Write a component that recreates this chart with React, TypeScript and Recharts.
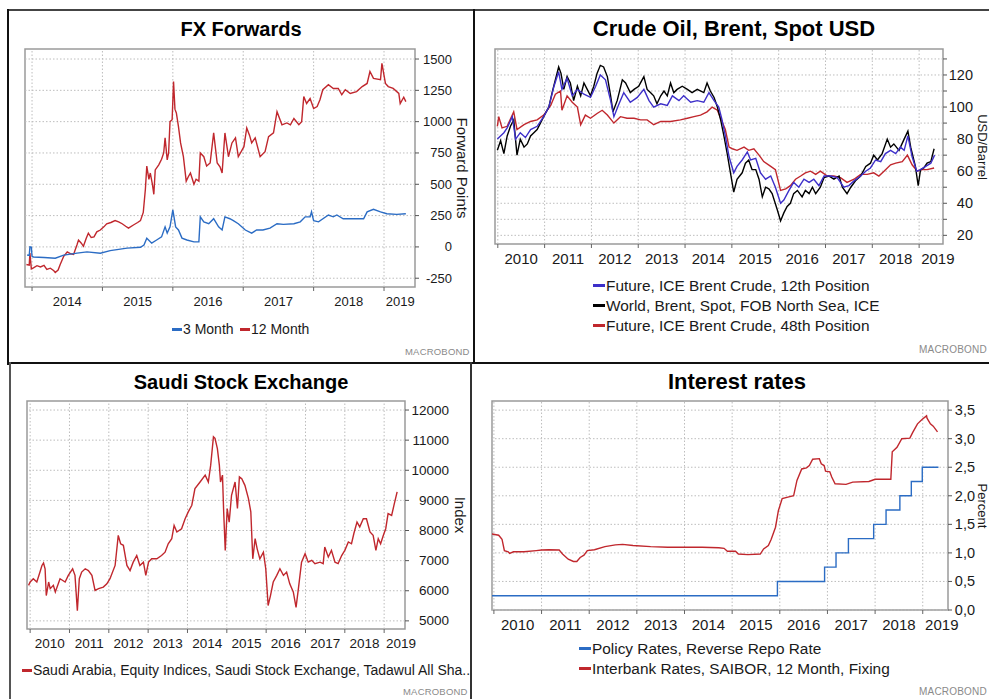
import React from 'react'
import { LineChart, Line, XAxis, YAxis, ReferenceArea, ReferenceLine } from 'recharts'

type Pt = [number, number]

const FONT = '"Liberation Sans", Arial, Helvetica, sans-serif'
const RED = '#c0272d'
const BLUE = '#2b6cc4'
const PURPLE = '#3d2fc9'

// ---------- FX Forwards ----------
const fxYears = [2014, 2015, 2016, 2017, 2018, 2019]
const fxLabelAt = [2014.5, 2015.5, 2016.5, 2017.5, 2018.5, 2019.23]
const fxYTicks = [-250, 0, 250, 500, 750, 1000, 1250, 1500]
const fx3m: Pt[] = [
  [2013.93, -65], [2013.96, -68], [2013.97, 0], [2013.99, -2], [2014.0, -75], [2014.02, -80], [2014.17, -85],
  [2014.33, -90], [2014.45, -65], [2014.64, -50], [2014.78, -40], [2014.97, -50], [2015.11, -30], [2015.35, -10],
  [2015.54, -3], [2015.59, 15], [2015.63, 70], [2015.7, 30], [2015.77, 55], [2015.84, 80], [2015.89, 160],
  [2015.92, 110], [2015.96, 160], [2016.0, 295], [2016.04, 160], [2016.08, 135], [2016.13, 70], [2016.2, 55],
  [2016.3, 40], [2016.37, 40], [2016.39, 240], [2016.44, 200], [2016.51, 185], [2016.58, 225], [2016.65, 160],
  [2016.7, 135], [2016.74, 240], [2016.81, 225], [2016.86, 210], [2016.93, 185], [2017.03, 135], [2017.12, 110],
  [2017.19, 135], [2017.28, 135], [2017.38, 150], [2017.48, 185], [2017.57, 180], [2017.72, 185], [2017.81, 200],
  [2017.88, 240], [2017.95, 240], [2017.97, 280], [2018.0, 210], [2018.07, 200], [2018.21, 255], [2018.28, 240],
  [2018.33, 255], [2018.42, 225], [2018.57, 225], [2018.71, 225], [2018.76, 280], [2018.85, 300], [2018.95, 280],
  [2019.04, 265], [2019.18, 260], [2019.31, 265],
]
const fx12m: Pt[] = [
  [2013.92, -140], [2013.96, -145], [2013.97, -50], [2013.99, -175], [2014.02, -167], [2014.07, -150],
  [2014.12, -160], [2014.17, -148], [2014.21, -180], [2014.26, -170], [2014.31, -190], [2014.33, -205],
  [2014.37, -185], [2014.4, -140], [2014.45, -75], [2014.5, -40], [2014.55, -55], [2014.59, -60], [2014.64, 20],
  [2014.66, 55], [2014.7, 30], [2014.73, 5], [2014.77, 70], [2014.8, 110], [2014.84, 75], [2014.88, 80],
  [2014.92, 120], [2014.97, 135], [2015.02, 160], [2015.06, 185], [2015.12, 195], [2015.18, 210], [2015.23, 200],
  [2015.28, 185], [2015.33, 165], [2015.37, 150], [2015.44, 175], [2015.5, 195], [2015.54, 210], [2015.58, 275],
  [2015.61, 460], [2015.63, 645], [2015.66, 540], [2015.68, 590], [2015.71, 500], [2015.73, 420], [2015.75, 615],
  [2015.8, 655], [2015.84, 700], [2015.87, 750], [2015.89, 870], [2015.92, 695], [2015.94, 750], [2015.96, 1000],
  [2015.99, 1015], [2016.01, 1320], [2016.03, 1100], [2016.05, 1070], [2016.08, 960], [2016.11, 830],
  [2016.15, 720], [2016.19, 525], [2016.22, 560], [2016.25, 590], [2016.3, 500], [2016.33, 540], [2016.37, 525],
  [2016.39, 750], [2016.44, 720], [2016.48, 645], [2016.53, 670], [2016.58, 910], [2016.63, 670], [2016.67, 640],
  [2016.7, 590], [2016.74, 910], [2016.79, 720], [2016.84, 830], [2016.89, 870], [2016.93, 720], [2017.01, 800],
  [2017.05, 950], [2017.09, 890], [2017.12, 830], [2017.17, 870], [2017.24, 720], [2017.31, 760], [2017.36, 880],
  [2017.43, 910], [2017.48, 1080], [2017.55, 975], [2017.62, 990], [2017.67, 975], [2017.72, 1025],
  [2017.79, 975], [2017.83, 1000], [2017.86, 1200], [2017.9, 1145], [2017.95, 1185], [2018.0, 1105],
  [2018.05, 1120], [2018.09, 1175], [2018.13, 1255], [2018.21, 1295], [2018.28, 1265], [2018.35, 1265],
  [2018.4, 1215], [2018.45, 1255], [2018.52, 1225], [2018.61, 1240], [2018.69, 1280], [2018.76, 1305],
  [2018.8, 1400], [2018.85, 1345], [2018.95, 1335], [2018.97, 1465], [2019.02, 1305], [2019.06, 1280],
  [2019.13, 1265], [2019.21, 1225], [2019.23, 1145], [2019.28, 1195], [2019.31, 1160],
]

// ---------- Crude oil ----------
const oilYears = [2010, 2011, 2012, 2013, 2014, 2015, 2016, 2017, 2018, 2019]
const oilLabelAt = [2010.5, 2011.5, 2012.5, 2013.5, 2014.5, 2015.5, 2016.5, 2017.5, 2018.5, 2019.4]
const oilYTicks = [20, 30, 40, 50, 60, 70, 80, 90, 100, 110, 120, 130]
const oilSpot: Pt[] = [
  [2009.99, 73], [2010.06, 79], [2010.13, 71], [2010.2, 82], [2010.27, 88], [2010.34, 92], [2010.41, 70],
  [2010.48, 80], [2010.56, 75], [2010.63, 77], [2010.7, 82], [2010.77, 84], [2010.84, 86], [2010.91, 90],
  [2010.98, 94], [2011.09, 100], [2011.16, 109], [2011.23, 117], [2011.3, 125], [2011.35, 121], [2011.41, 111],
  [2011.48, 119], [2011.55, 115], [2011.62, 104], [2011.7, 113], [2011.77, 107], [2011.84, 115], [2011.91, 111],
  [2011.98, 107], [2012.05, 113], [2012.12, 121], [2012.19, 126], [2012.26, 125], [2012.34, 119], [2012.41, 107],
  [2012.46, 97], [2012.55, 104], [2012.66, 117], [2012.73, 115], [2012.83, 109], [2012.91, 111], [2013.01, 113],
  [2013.12, 119], [2013.19, 111], [2013.26, 109], [2013.33, 107], [2013.4, 102], [2013.48, 107], [2013.55, 110],
  [2013.62, 107], [2013.69, 115], [2013.76, 109], [2013.83, 111], [2013.94, 113], [2014.05, 111], [2014.15, 109],
  [2014.26, 111], [2014.4, 109], [2014.47, 115], [2014.54, 110], [2014.62, 106], [2014.69, 100], [2014.76, 92],
  [2014.83, 82], [2014.9, 71], [2014.97, 59], [2015.04, 47], [2015.11, 55], [2015.22, 59], [2015.29, 65],
  [2015.36, 67], [2015.43, 61], [2015.51, 61], [2015.58, 55], [2015.65, 44], [2015.72, 50], [2015.79, 49],
  [2015.86, 46], [2015.97, 36], [2016.04, 29], [2016.11, 34], [2016.18, 38], [2016.25, 40], [2016.32, 46],
  [2016.4, 48], [2016.5, 44], [2016.57, 48], [2016.65, 46], [2016.72, 50], [2016.79, 46], [2016.89, 50],
  [2016.97, 56], [2017.07, 57], [2017.18, 55], [2017.29, 57], [2017.36, 50], [2017.46, 46], [2017.54, 50],
  [2017.64, 54], [2017.75, 57], [2017.86, 63], [2017.96, 65], [2018.03, 70], [2018.11, 67], [2018.21, 71],
  [2018.32, 80], [2018.39, 75], [2018.46, 77], [2018.57, 73], [2018.68, 80], [2018.76, 85], [2018.82, 75],
  [2018.92, 63], [2018.98, 51], [2019.03, 61], [2019.1, 62], [2019.17, 65], [2019.25, 66], [2019.32, 74],
]
const oil12th: Pt[] = [
  [2009.99, 80], [2010.13, 84], [2010.2, 87], [2010.31, 94], [2010.38, 80], [2010.48, 84], [2010.59, 81],
  [2010.7, 86], [2010.84, 88], [2010.98, 94], [2011.09, 100], [2011.2, 113], [2011.3, 122], [2011.37, 111],
  [2011.48, 118], [2011.59, 107], [2011.7, 111], [2011.84, 108], [2011.98, 106], [2012.09, 113], [2012.19, 120],
  [2012.3, 117], [2012.41, 104], [2012.48, 94], [2012.59, 102], [2012.69, 109], [2012.83, 103], [2012.98, 106],
  [2013.12, 111], [2013.23, 104], [2013.33, 100], [2013.48, 102], [2013.62, 101], [2013.73, 107], [2013.87, 104],
  [2013.97, 107], [2014.12, 103], [2014.26, 104], [2014.4, 103], [2014.51, 109], [2014.62, 104], [2014.72, 100],
  [2014.79, 92], [2014.86, 82], [2014.94, 69], [2015.04, 59], [2015.11, 63], [2015.22, 67], [2015.33, 72],
  [2015.4, 67], [2015.51, 68], [2015.61, 59], [2015.72, 55], [2015.83, 57], [2015.93, 50], [2016.04, 40],
  [2016.11, 42], [2016.22, 48], [2016.32, 53], [2016.43, 50], [2016.54, 55], [2016.65, 53], [2016.75, 55],
  [2016.86, 51], [2016.97, 57], [2017.11, 57], [2017.25, 56], [2017.39, 50], [2017.5, 51], [2017.61, 54],
  [2017.75, 57], [2017.86, 60], [2017.96, 62], [2018.07, 67], [2018.18, 66], [2018.28, 71], [2018.39, 73],
  [2018.5, 71], [2018.6, 75], [2018.68, 73], [2018.76, 82], [2018.85, 69], [2018.95, 60], [2019.03, 61],
  [2019.14, 63], [2019.25, 65], [2019.33, 70],
]
const oil48th: Pt[] = [
  [2009.99, 88], [2010.02, 94], [2010.09, 87], [2010.2, 88], [2010.34, 97], [2010.41, 86], [2010.56, 89],
  [2010.7, 91], [2010.84, 92], [2010.98, 95], [2011.13, 101], [2011.23, 108], [2011.34, 110], [2011.37, 98],
  [2011.48, 107], [2011.59, 103], [2011.7, 100], [2011.77, 89], [2011.87, 95], [2011.98, 93], [2012.12, 96],
  [2012.23, 98], [2012.34, 95], [2012.48, 90], [2012.62, 94], [2012.76, 93], [2012.91, 93], [2013.05, 92],
  [2013.19, 92], [2013.33, 89], [2013.48, 91], [2013.69, 91], [2013.9, 92], [2014.05, 93], [2014.19, 94],
  [2014.33, 95], [2014.47, 97], [2014.58, 100], [2014.69, 98], [2014.79, 91], [2014.86, 86], [2014.94, 75],
  [2015.01, 74], [2015.11, 73], [2015.26, 75], [2015.36, 73], [2015.47, 74], [2015.58, 70], [2015.68, 66],
  [2015.83, 63], [2015.93, 61], [2016.04, 48], [2016.15, 49], [2016.25, 51], [2016.36, 55], [2016.47, 57],
  [2016.57, 59], [2016.68, 60], [2016.79, 58], [2016.89, 60], [2017.04, 57], [2017.18, 57], [2017.32, 56],
  [2017.46, 53], [2017.61, 55], [2017.75, 58], [2017.89, 58], [2018.03, 59], [2018.14, 57], [2018.25, 60],
  [2018.39, 64], [2018.5, 65], [2018.64, 66], [2018.75, 70], [2018.85, 64], [2018.96, 60], [2019.07, 61],
  [2019.17, 61], [2019.32, 62],
]

// ---------- Saudi stock exchange ----------
const tasiYears = oilYears
const tasiLabelAt = [2010.5, 2011.5, 2012.5, 2013.5, 2014.5, 2015.5, 2016.5, 2017.5, 2018.5, 2019.43]
const tasiYTicks = [5000, 6000, 7000, 8000, 9000, 10000, 11000, 12000]
const tasi: Pt[] = [
  [2009.96, 6180], [2010.0, 6290], [2010.08, 6400], [2010.17, 6290], [2010.25, 6620], [2010.3, 6840],
  [2010.34, 6920], [2010.38, 6730], [2010.41, 5840], [2010.47, 6290], [2010.51, 6070], [2010.59, 6180],
  [2010.64, 5960], [2010.76, 6400], [2010.89, 6290], [2010.97, 6510], [2011.08, 6730], [2011.14, 6510],
  [2011.2, 5340], [2011.25, 6400], [2011.31, 6620], [2011.4, 6730], [2011.48, 6670], [2011.57, 6510],
  [2011.65, 6010], [2011.74, 6070], [2011.86, 6120], [2011.95, 6230], [2012.03, 6400], [2012.16, 6840],
  [2012.24, 7840], [2012.3, 7560], [2012.37, 7510], [2012.46, 6840], [2012.54, 6670], [2012.62, 6950],
  [2012.71, 7170], [2012.79, 6840], [2012.88, 6950], [2012.94, 6510], [2013.01, 6950], [2013.09, 7060],
  [2013.22, 7060], [2013.34, 7170], [2013.43, 7280], [2013.51, 7560], [2013.6, 7730], [2013.66, 8170],
  [2013.73, 7950], [2013.85, 8060], [2013.94, 8390], [2014.02, 8620], [2014.11, 8840], [2014.19, 9390],
  [2014.32, 9610], [2014.45, 9840], [2014.53, 9610], [2014.59, 10170], [2014.66, 11110], [2014.7, 11060],
  [2014.76, 10720], [2014.81, 10170], [2014.84, 9610], [2014.89, 9840], [2014.92, 8620], [2014.96, 7340],
  [2015.01, 8730], [2015.06, 8280], [2015.12, 9170], [2015.21, 9610], [2015.27, 8730], [2015.32, 9780],
  [2015.38, 9720], [2015.46, 9500], [2015.55, 9060], [2015.61, 8620], [2015.66, 7060], [2015.72, 7730],
  [2015.77, 7400], [2015.84, 7060], [2015.93, 7280], [2015.99, 6730], [2016.05, 5510], [2016.11, 5840],
  [2016.18, 6290], [2016.27, 6510], [2016.35, 6730], [2016.44, 6510], [2016.52, 6620], [2016.6, 6230],
  [2016.69, 5960], [2016.76, 5450], [2016.82, 6070], [2016.9, 6950], [2016.99, 7230], [2017.07, 6950],
  [2017.16, 7010], [2017.24, 6900], [2017.37, 6950], [2017.45, 6900], [2017.49, 7450], [2017.58, 7120],
  [2017.66, 7340], [2017.75, 6950], [2017.83, 6900], [2017.92, 7170], [2018.0, 7340], [2018.09, 7620],
  [2018.17, 7560], [2018.23, 7900], [2018.31, 8280], [2018.38, 8120], [2018.47, 8390], [2018.55, 8390],
  [2018.64, 7950], [2018.72, 7840], [2018.79, 7340], [2018.85, 7730], [2018.91, 7560], [2018.98, 7840],
  [2019.04, 8060], [2019.1, 8560], [2019.19, 8500], [2019.25, 8840], [2019.33, 9280],
]

// ---------- Interest rates ----------
const rateYears = oilYears
const rateLabelAt = [2010.5, 2011.5, 2012.5, 2013.5, 2014.5, 2015.5, 2016.5, 2017.5, 2018.5, 2019.4]
const rateYTicks = [0, 0.5, 1, 1.5, 2, 2.5, 3, 3.5]
const repo: Pt[] = [
  [2009.96, 0.25], [2015.95, 0.5], [2016.94, 0.75], [2017.18, 1.0], [2017.44, 1.25], [2017.97, 1.5],
  [2018.23, 1.75], [2018.52, 2.0], [2018.76, 2.25], [2018.99, 2.5], [2019.33, 2.5],
]
const saibor: Pt[] = [
  [2009.96, 1.33], [2010.1, 1.31], [2010.17, 1.24], [2010.22, 1.04], [2010.3, 1.02], [2010.33, 0.99],
  [2010.41, 1.02], [2010.63, 1.02], [2010.89, 1.04], [2011.0, 1.05], [2011.15, 1.055], [2011.37, 1.05],
  [2011.44, 0.98], [2011.56, 0.89], [2011.67, 0.85], [2011.74, 0.85], [2011.81, 0.92], [2011.89, 0.96],
  [2011.96, 1.04], [2012.11, 1.055], [2012.33, 1.11], [2012.55, 1.14], [2012.7, 1.15], [2012.92, 1.13],
  [2013.29, 1.11], [2013.65, 1.1], [2014.02, 1.1], [2014.37, 1.1], [2014.72, 1.09], [2014.83, 1.08],
  [2014.9, 1.03], [2015.07, 1.03], [2015.13, 0.98], [2015.33, 0.97], [2015.59, 0.98], [2015.66, 1.07],
  [2015.76, 1.13], [2015.82, 1.24], [2015.91, 1.45], [2015.97, 1.74], [2016.05, 1.95], [2016.19, 1.98],
  [2016.29, 2.0], [2016.36, 2.27], [2016.46, 2.47], [2016.56, 2.49], [2016.62, 2.53], [2016.69, 2.64],
  [2016.83, 2.65], [2016.87, 2.56], [2016.93, 2.53], [2016.96, 2.43], [2017.05, 2.42], [2017.09, 2.33],
  [2017.16, 2.21], [2017.39, 2.2], [2017.53, 2.24], [2017.87, 2.25], [2018.0, 2.29], [2018.33, 2.29],
  [2018.36, 2.77], [2018.46, 2.85], [2018.56, 3.0], [2018.73, 3.01], [2018.79, 3.11], [2018.89, 3.26],
  [2018.99, 3.34], [2019.08, 3.4], [2019.09, 3.36], [2019.16, 3.26], [2019.22, 3.22], [2019.31, 3.12],
]

const rows = (pts: Pt[]) => pts.map(([t, v]) => ({ t, v }))

// x axis: integer ticks draw a short tick mark, fractional ones carry the year label
const xTick = (fs: number) => (props: any) => {
  const { x, y, payload } = props
  const v = payload.value as number
  if (Number.isInteger(v)) return <line x1={x} x2={x} y1={y} y2={y + 4} stroke="#666" strokeWidth={1} />
  return (
    <text x={x} y={y + 14} textAnchor="middle" dominantBaseline="central" fontSize={fs} fontFamily={FONT} fill="#1a1a1a">
      {Math.floor(v)}
    </text>
  )
}

const yTick = (off: number, fs: number, fmt: (v: number) => string, show: (v: number) => boolean) => (props: any) => {
  const { x, y, payload } = props
  const v = payload.value as number
  if (!show(v)) return <g />
  return (
    <text x={x + off} y={y} textAnchor="end" dominantBaseline="central" fontSize={fs} fontFamily={FONT} fill="#1a1a1a">
      {fmt(v)}
    </text>
  )
}

interface PanelProps {
  left: number
  top: number
  width: number
  height: number
  margin: { top: number; left: number; right: number; bottom: number }
  yWidth: number
  xDomain: [number, number]
  yDomain: [number, number]
  years: number[]
  labelAt: number[]
  yTicks: number[]
  xFs: number
  yTickEl: any
  children: React.ReactNode
}

function Panel(p: PanelProps) {
  const xTicks = [...p.years, ...p.labelAt].sort((a, b) => a - b)
  return (
    <div style={{ position: 'absolute', left: p.left, top: p.top }}>
      <LineChart width={p.width} height={p.height} margin={p.margin}>
        <XAxis
          type="number"
          dataKey="t"
          domain={p.xDomain}
          allowDataOverflow
          ticks={xTicks}
          interval={0}
          tickLine={false}
          axisLine={false}
          tickSize={0}
          tickMargin={0}
          height={30}
          tick={xTick(p.xFs)}
        />
        <YAxis
          type="number"
          orientation="right"
          domain={p.yDomain}
          allowDataOverflow
          ticks={p.yTicks}
          interval={0}
          width={p.yWidth}
          axisLine={false}
          tickSize={4}
          tickLine={{ stroke: '#555' }}
          tick={p.yTickEl}
        />
        {p.yTicks.map((v) => (
          <ReferenceLine key={'h' + v} y={v} stroke="#bdbdbd" strokeDasharray="1.5 2" />
        ))}
        {p.years.map((v) => (
          <ReferenceLine key={'v' + v} x={v} stroke="#bdbdbd" strokeDasharray="1.5 2" />
        ))}
        <ReferenceArea
          x1={p.xDomain[0]}
          x2={p.xDomain[1]}
          y1={p.yDomain[0]}
          y2={p.yDomain[1]}
          fill="none"
          fillOpacity={0}
          stroke="#9a9a9a"
          strokeWidth={1.5}
        />
        {p.children}
      </LineChart>
    </div>
  )
}

const abs = (extra: React.CSSProperties): React.CSSProperties => ({
  position: 'absolute',
  fontFamily: FONT,
  whiteSpace: 'nowrap',
  ...extra,
})

function Title({ text, cx, cy, fs }: { text: string; cx: number; cy: number; fs: number }) {
  return (
    <div style={abs({ left: cx, top: cy - fs / 2, lineHeight: `${fs}px`, fontSize: fs, fontWeight: 'bold', transform: 'translateX(-50%)', color: '#000' })}>
      {text}
    </div>
  )
}

function AxisTitle({ text, cx, cy, fs }: { text: string; cx: number; cy: number; fs: number }) {
  return (
    <div style={abs({ left: cx, top: cy, fontSize: fs, lineHeight: `${fs}px`, transform: 'translate(-50%, -50%) rotate(90deg)', color: '#1a1a1a' })}>
      {text}
    </div>
  )
}

function LegendItem({ color, text, left, cy, fs, sw }: { color: string; text: string; left: number; cy: number; fs: number; sw: number }) {
  return (
    <div style={abs({ left, top: cy - fs / 2, height: fs, lineHeight: `${fs}px`, fontSize: fs, display: 'flex', alignItems: 'center', color: '#1a1a1a' })}>
      <span style={{ display: 'inline-block', width: sw, height: 3, background: color, marginRight: 1 }} />
      {text}
    </div>
  )
}

function Logo({ left, cy, fs }: { left: number; cy: number; fs: number }) {
  return (
    <div style={abs({ left, top: cy - fs / 2, fontSize: fs, lineHeight: `${fs}px`, color: '#8a8a8a', letterSpacing: 0.2 })}>
      MACROBOND
    </div>
  )
}

const frame = (l: number, t: number, w: number, h: number, c = '#111'): React.CSSProperties => ({
  position: 'absolute',
  left: l,
  top: t,
  width: w,
  height: h,
  background: c,
})

export default function App() {
  const lineProps = { dataKey: 'v', dot: false, isAnimationActive: false, strokeWidth: 1.4, type: 'linear' as const }
  return (
    <div style={{ position: 'absolute', left: 0, top: 0, width: 989, height: 699, background: '#fff', overflow: 'hidden' }}>
      {/* panel frames */}
      <div style={frame(7, 9, 982, 2, '#444')} />
      <div style={frame(7, 9, 2, 356)} />
      <div style={frame(473, 9, 2, 354)} />
      <div style={frame(9, 362, 980, 2)} />
      <div style={frame(9, 362, 2, 337, '#555')} />
      <div style={frame(470, 362, 2, 337, '#333')} />

      {/* FX Forwards */}
      <Title text="FX Forwards" cx={241} cy={29} fs={20} />
      <Panel
        left={0}
        top={40}
        width={475}
        height={277}
        margin={{ top: 9, left: 25, right: 0, bottom: 0 }}
        yWidth={60}
        xDomain={[2013.9, 2019.44]}
        yDomain={[-320, 1580]}
        years={fxYears}
        labelAt={fxLabelAt}
        yTicks={fxYTicks}
        xFs={13}
        yTickEl={yTick(31, 13, (v) => String(v), () => true)}
      >
        <Line {...lineProps} data={rows(fx12m)} stroke={RED} />
        <Line {...lineProps} data={rows(fx3m)} stroke={BLUE} />
      </Panel>
      <AxisTitle text="Forward Points" cx={462} cy={168} fs={15} />
      <LegendItem color={BLUE} text="3 Month" left={172} cy={329} fs={14} sw={10} />
      <LegendItem color={RED} text="12 Month" left={240} cy={329} fs={14} sw={10} />
      <Logo left={405} cy={352} fs={9.5} />

      {/* Crude oil */}
      <Title text="Crude Oil, Brent, Spot USD" cx={734} cy={29} fs={22} />
      <Panel
        left={475}
        top={40}
        width={514}
        height={234}
        margin={{ top: 9, left: 20, right: 0, bottom: 0 }}
        yWidth={46}
        xDomain={[2009.94, 2019.51]}
        yDomain={[14.6, 136.2]}
        years={oilYears}
        labelAt={oilLabelAt}
        yTicks={oilYTicks}
        xFs={15}
        yTickEl={yTick(24, 14.5, (v) => String(v), (v) => v % 20 === 0 && v <= 120)}
      >
        <Line {...lineProps} data={rows(oil48th)} stroke={RED} />
        <Line {...lineProps} data={rows(oilSpot)} stroke="#000" />
        <Line {...lineProps} data={rows(oil12th)} stroke={PURPLE} />
      </Panel>
      <AxisTitle text="USD/Barrel" cx={982} cy={147} fs={13} />
      <LegendItem color={PURPLE} text="Future, ICE Brent Crude, 12th Position" left={593} cy={286} fs={15.4} sw={12} />
      <LegendItem color="#000" text="World, Brent, Spot, FOB North Sea, ICE" left={593} cy={306} fs={15.4} sw={12} />
      <LegendItem color={RED} text="Future, ICE Brent Crude, 48th Position" left={593} cy={326} fs={15.4} sw={12} />
      <Logo left={919} cy={350} fs={10} />

      {/* Saudi stock exchange */}
      <Title text="Saudi Stock Exchange" cx={241} cy={382} fs={20} />
      <Panel
        left={0}
        top={390}
        width={470}
        height={269}
        margin={{ top: 11, left: 27, right: 0, bottom: 0 }}
        yWidth={65}
        xDomain={[2009.92, 2019.53]}
        yDomain={[4730, 12300]}
        years={tasiYears}
        labelAt={tasiLabelAt}
        yTicks={tasiYTicks}
        xFs={13.5}
        yTickEl={yTick(38, 13.5, (v) => String(v), () => true)}
      >
        <Line {...lineProps} data={rows(tasi)} stroke={RED} />
      </Panel>
      <AxisTitle text="Index" cx={460} cy={515} fs={15} />
      <LegendItem
        color={RED}
        text="Saudi Arabia, Equity Indices, Saudi Stock Exchange, Tadawul All Sha.."
        left={22}
        cy={670}
        fs={14}
        sw={10}
      />
      <Logo left={403} cy={692} fs={9.5} />

      {/* Interest rates */}
      <Title text="Interest rates" cx={737} cy={382} fs={22} />
      <Panel
        left={475}
        top={390}
        width={514}
        height={250}
        margin={{ top: 11, left: 17, right: 0, bottom: 0 }}
        yWidth={41}
        xDomain={[2009.96, 2019.53]}
        yDomain={[0, 3.66]}
        years={rateYears}
        labelAt={rateLabelAt}
        yTicks={rateYTicks}
        xFs={15}
        yTickEl={yTick(21, 14.5, (v) => v.toFixed(1).replace('.', ','), () => true)}
      >
        <Line {...lineProps} data={rows(repo)} stroke={BLUE} type="stepAfter" />
        <Line {...lineProps} data={rows(saibor)} stroke={RED} />
      </Panel>
      <AxisTitle text="Percent" cx={982} cy={506} fs={13} />
      <LegendItem color={BLUE} text="Policy Rates, Reverse Repo Rate" left={579} cy={649} fs={15.4} sw={12} />
      <LegendItem color={RED} text="Interbank Rates, SAIBOR, 12 Month, Fixing" left={579} cy={669} fs={15.4} sw={12} />
      <Logo left={919} cy={692} fs={10} />
    </div>
  )
}
